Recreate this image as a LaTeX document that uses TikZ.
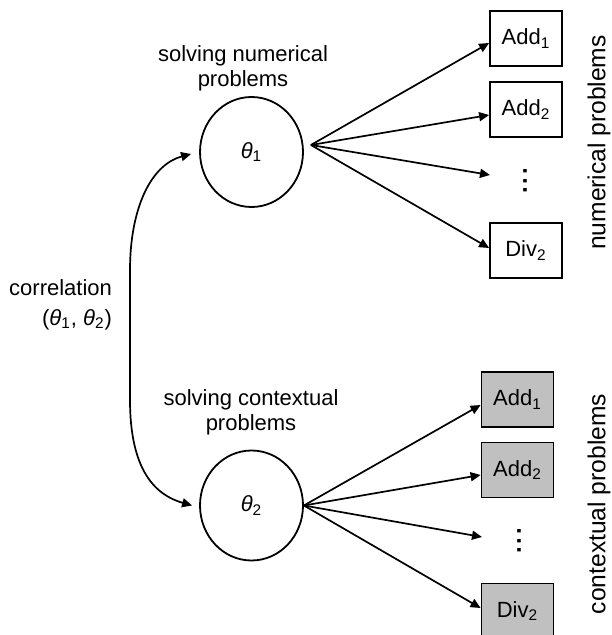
\documentclass[tikz,border=0pt]{standalone}
\usepackage{fontspec}
\setmainfont{Liberation Sans}
\usetikzlibrary{shapes}
\usetikzlibrary{arrows.meta}
\usetikzlibrary{calc,positioning}
\definecolor{itemgray}{RGB}{192,192,192}

\begin{document}
\begin{tikzpicture} [x=0.5pt,y=-0.5pt,
        latent/.style={
            ellipse,
            draw,
            line width=0.9pt,
            minimum width=51.5pt,
            minimum height=55pt,
            inner sep=0pt,
            font=\fontsize{11}{13}\selectfont},
        item/.style={
            rectangle,
            draw,
            line width=0.9pt,
            fill=#1,
            minimum width=36pt,
            minimum height=27.5pt,
            inner sep=0pt,
            font=\fontsize{11}{13}\selectfont},
        item/.default=white,
        more/.style={
            rotate=90,
            inner sep=0pt,
            font=\fontsize{12}{13}\selectfont\bfseries},
        lbl/.style={
            align=center,
            font=\fontsize{11}{12.5}\selectfont},
        side/.style={
            rotate=90,
            font=\fontsize{12.3}{14}\selectfont},
        arr/.style={
            -{Triangle[length=5pt,width=4.5pt]},
            line width=0.85pt}]

    \useasboundingbox (0,0) rectangle (611,635);

    % latent abilities
    \node[latent] (t1) at (251.5,152) {{\itshape θ}\textsubscript{1}};
    \node[latent] (t2) at (251.5,505.5) {{\itshape θ}\textsubscript{2}};
    \node[lbl] (l1) at (243,68) {solving numerical\\problems};
    \node[lbl] (l2) at (251,412) {solving contextual\\problems};

    % numerical items
    \node[item] (num1) at (526,38.5) {Add\textsubscript{1}};
    \node[item] (num2) at (526,109.5) {Add\textsubscript{2}};
    \node[more] (numdots) at (525,181) {.\kern1.4pt.\kern1.4pt.};
    \node[item] (num3) at (526,250.5) {Div\textsubscript{2}};
    \node[side] (numlbl) at (599,142.5) {numerical problems};

    % contextual items
    \node[item=itemgray] (ctx1) at (517.5,399.5) {Add\textsubscript{1}};
    \node[item=itemgray] (ctx2) at (517.5,470) {Add\textsubscript{2}};
    \node[more] (ctxdots) at (519,541) {.\kern1.4pt.\kern1.4pt.};
    \node[item=itemgray] (ctx3) at (517.5,611) {Div\textsubscript{2}};
    \node[side] (ctxlbl) at (599,504) {contextual problems};

    % loadings
    \coordinate (o1) at ($(t1.east)+(7,-7)$);
    \coordinate (o2) at (t2.east);
    \foreach \n/\dy in {num1/4.5,num2/5.5,num3/-2.5} {
        \draw[arr] (o1) -- ($(\n.west)+(0,\dy)$);
    }
    \draw[arr] (o1) -- ($(numdots.center)+(-35,-6)$);
    \foreach \n/\dy in {ctx1/5.5,ctx2/5,ctx3/-3} {
        \draw[arr] (o2) -- ($(\n.west)+(0,\dy)$);
    }
    \draw[arr] (o2) -- ($(ctxdots.center)+(-37,-4)$);

    % correlation
    \coordinate (c1) at ($(t1.west)+(-8,2)$);
    \coordinate (c2) at ($(t2.west)+(-7,0)$);
    \draw[arr,{Triangle[length=5pt,width=4.5pt]}-{Triangle[length=5pt,width=4.5pt]}]
        (c1) .. controls (150,165) and (130,210) .. (130,270) -- (130,400)
        .. controls (130,470) and (155,495) .. (c2);
    \node[lbl,align=right,anchor=east,font=\fontsize{11}{15}\selectfont] (corr) at (119,305)
        {correlation\\({\itshape θ}\textsubscript{1}, {\itshape θ}\textsubscript{2})};

\end{tikzpicture}
\end{document}
